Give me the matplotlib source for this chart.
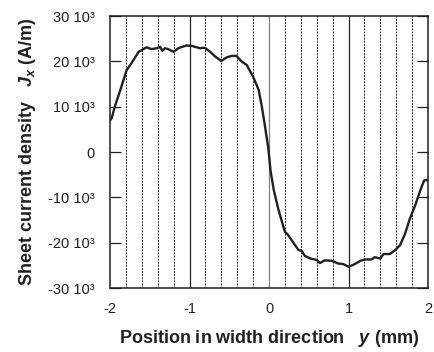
import matplotlib
matplotlib.use("Agg")
import matplotlib.pyplot as plt
import numpy as np

plt.rcParams["font.family"] = ["Liberation Sans", "DejaVu Sans"]
plt.rcParams["mathtext.fontset"] = "custom"
plt.rcParams["mathtext.rm"] = "Liberation Sans:bold"
plt.rcParams["mathtext.it"] = "Liberation Sans:bold:italic"
plt.rcParams["mathtext.bf"] = "Liberation Sans:bold"

# Sheet current density profile across the strip width
position_mm = [-2.00, -1.98, -1.94, -1.87, -1.79, -1.73, -1.64, -1.60, -1.54, -1.48,
               -1.41, -1.37, -1.34, -1.31, -1.27, -1.20, -1.14, -1.04, -0.97, -0.87,
               -0.81, -0.74, -0.68, -0.60, -0.53, -0.47, -0.41, -0.34, -0.28, -0.20,
               -0.13, -0.09, -0.05, -0.01, 0.02, 0.06, 0.12, 0.20, 0.24, 0.31,
               0.37, 0.41, 0.45, 0.52, 0.60, 0.64, 0.70, 0.79, 0.87, 0.93,
               1.00, 1.06, 1.15, 1.21, 1.29, 1.33, 1.40, 1.44, 1.52, 1.59,
               1.65, 1.71, 1.77, 1.84, 1.90, 1.95, 2.00]
current_kA = [7.0, 7.4, 10.0, 13.7, 18.1, 19.6, 22.1, 22.5, 23.1, 22.7,
              22.9, 23.2, 22.3, 22.9, 22.7, 22.1, 22.9, 23.5, 23.4, 22.9,
              23.0, 22.1, 21.1, 20.1, 20.9, 21.2, 21.2, 19.9, 19.2, 16.6,
              13.7, 10.0, 5.6, 1.0, -4.2, -8.4, -12.8, -17.6, -18.3, -20.1,
              -21.6, -21.8, -22.9, -23.5, -23.8, -24.5, -23.9, -24.0, -24.6, -24.7,
              -25.3, -24.9, -24.0, -23.7, -23.7, -23.2, -23.5, -22.5, -22.5, -21.6,
              -20.5, -18.1, -14.8, -11.7, -8.6, -6.3, -6.1]
x_ticks = [-2, -1, 0, 1, 2]
y_ticks = [-30, -20, -10, 0, 10, 20, 30]
y_tick_labels = ["-30 10³", "-20 10³", "-10 10³", "0", "10 10³", "20 10³", "30 10³"]

ink = "#231f20"

fig = plt.figure(figsize=(4.34, 3.52), dpi=100)
ax = fig.add_axes([0.2535, 0.1818, 0.7327, 0.7727])

# vertical guide lines: solid at whole millimetres, dashed every 0.2 mm
for i in range(-9, 10):
    xv = i * 0.2
    if i % 5 == 0:
        col = "#7f7f7f" if i == 0 else ink
        ax.axvline(xv, color=col, lw=0.9, zorder=1)
    else:
        ax.axvline(xv, color=ink, lw=0.7, ls=(0, (2.0, 1.2)), zorder=1)

ax.plot(np.array(position_mm), np.array(current_kA), color=ink, lw=1.7,
        solid_joinstyle="round", zorder=3)

ax.set_xlim(-2, 2)
ax.set_ylim(-30, 30)
ax.set_xticks(x_ticks)
ax.set_xticklabels([str(t) for t in x_ticks])
ax.set_yticks(y_ticks)
ax.set_yticklabels(y_tick_labels)

ax.tick_params(axis="x", length=0, pad=10, labelsize=10.5, colors=ink)
ax.tick_params(axis="y", direction="in", length=8, width=0.9, pad=11,
               labelsize=10.5, colors=ink, right=True)
for s in ax.spines.values():
    s.set_color(ink)
    s.set_linewidth(1.1)

ax.set_xlabel("Position in width direction   $\\mathit{y}$ (mm)",
              fontsize=13, fontweight="bold", color=ink, labelpad=9)
ax.set_ylabel("Sheet current density   $\\mathit{J_x}$ (A/m)",
              fontsize=13, fontweight="bold", color=ink, labelpad=7)

fig.savefig("out.png", dpi=100)
